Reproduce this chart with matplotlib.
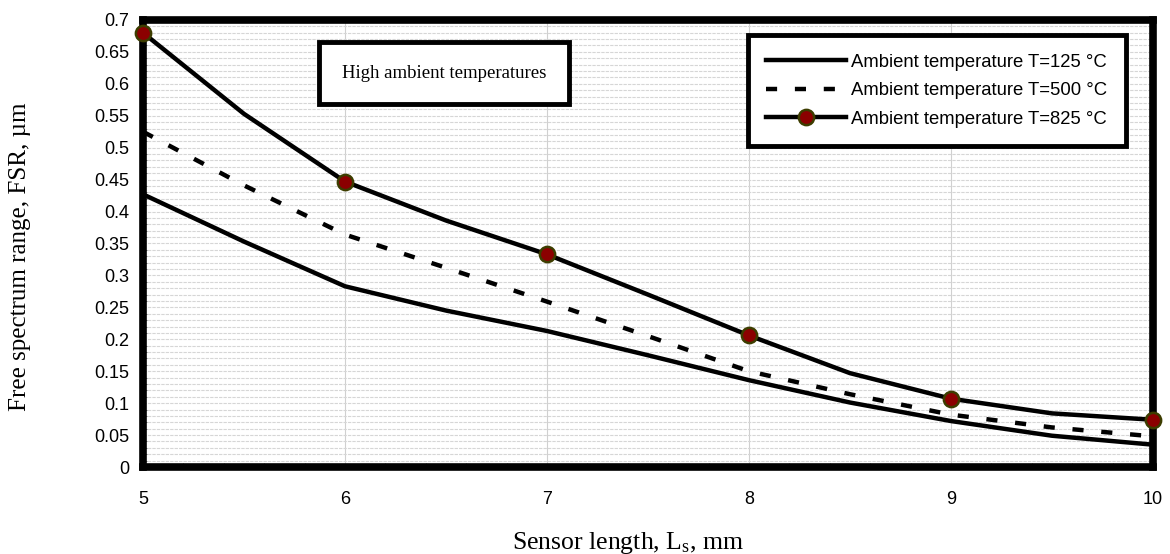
import numpy as np
import matplotlib.pyplot as plt
from matplotlib.ticker import MultipleLocator

# sensor length, mm (read at half-mm steps)
length = [5, 5.5, 6, 6.5, 7, 7.5, 8, 8.5, 9, 9.5, 10]

# free spectrum range, um
fsr_125 = [0.427, 0.353, 0.283, 0.245, 0.213, 0.175, 0.136, 0.101, 0.072, 0.049, 0.035]
fsr_500 = [0.525, 0.441, 0.364, 0.312, 0.259, 0.205, 0.150, 0.114, 0.082, 0.062, 0.048]
fsr_825 = [0.680, 0.553, 0.447, 0.386, 0.333, 0.270, 0.206, 0.147, 0.107, 0.084, 0.074]

labels = ["Ambient temperature T=125 °C",
          "Ambient temperature T=500 °C",
          "Ambient temperature T=825 °C"]

sans = "Liberation Sans"
serif = "Liberation Serif"
plt.rcParams["mathtext.fontset"] = "custom"
plt.rcParams["mathtext.rm"] = serif
plt.rcParams["mathtext.it"] = serif + ":italic"

fig = plt.figure(figsize=(11.7, 5.54), dpi=100)
ax = fig.add_axes([0.1222, 0.157, 0.8632, 0.807])

lw = 3.2
ax.plot(length, fsr_125, color="black", lw=lw, label=labels[0], zorder=3)
ax.plot(length, fsr_500, color="black", lw=lw, ls=(0, (2.5, 4)), label=labels[1], zorder=3)
ax.plot(length, fsr_825, color="black", lw=lw, marker="o", markevery=2, markersize=11,
        markerfacecolor="#8b0000", markeredgecolor="#3d3d00", markeredgewidth=1.8,
        label=labels[2], zorder=4, clip_on=False)

ax.set_xlim(5, 10)
ax.set_ylim(0, 0.7)
ax.xaxis.set_major_locator(MultipleLocator(1))
ax.xaxis.set_minor_locator(MultipleLocator(0.2))
ax.yaxis.set_major_locator(MultipleLocator(0.05))
ax.yaxis.set_minor_locator(MultipleLocator(0.01))
ax.set_yticks(ax.get_yticks())
ax.set_yticklabels([("%g" % round(v, 2)) for v in ax.get_yticks()])
ax.set_ylim(0, 0.7)

ax.grid(which="major", axis="x", color="#d0d0d0", lw=0.8)
ax.grid(which="both", axis="y", color="#d6d6d6", lw=0.8, ls=(0, (3, 1)))
ax.set_axisbelow(True)

for s in ax.spines.values():
    s.set_linewidth(5.5)
    s.set_color("black")

ax.tick_params(which="major", direction="in", length=0, labelsize=13, pad=17, axis="x")
ax.tick_params(which="major", direction="in", length=0, labelsize=13, pad=10, axis="y")
ax.tick_params(which="minor", direction="in", length=3, width=0.6, color="#555555")
for t in ax.get_xticklabels() + ax.get_yticklabels():
    t.set_fontfamily(sans)

ax.set_xlabel("Sensor length, L$_\\mathrm{s}$, mm", fontfamily=serif, fontsize=18.5)
ax.set_ylabel("Free spectrum range, FSR, µm", fontfamily=serif, fontsize=18)
ax.xaxis.set_label_coords(0.48, -0.141)
ax.yaxis.set_label_coords(-0.111, 0.47)

ax.text(0.298, 0.881, "High ambient temperatures", transform=ax.transAxes,
        fontfamily=serif, fontsize=13.5, ha="center", va="center",
        bbox=dict(boxstyle="square,pad=1.2", facecolor="white", edgecolor="black", lw=3.5))

leg = ax.legend(loc="upper right", bbox_to_anchor=(0.973, 0.966), prop={"family": sans, "size": 13.3},
                handlelength=4.3, handletextpad=0.3, labelspacing=0.62, borderpad=1.0,
                borderaxespad=0, fancybox=False, framealpha=1, edgecolor="black")
leg.get_frame().set_linewidth(3.5)
leg.set_zorder(5)

fig.savefig("out.png", dpi=100)
